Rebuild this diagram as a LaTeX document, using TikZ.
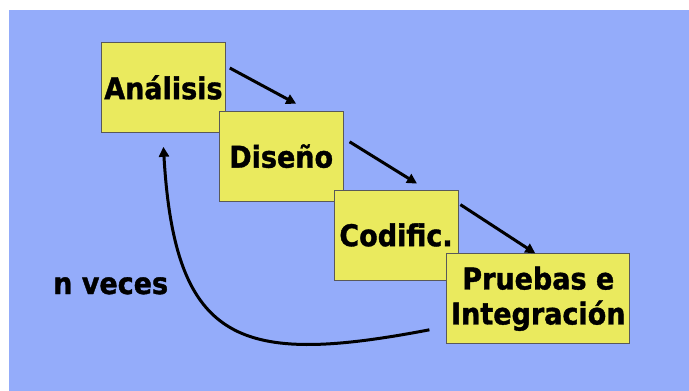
\documentclass[tikz,border=0pt]{standalone}
\usepackage{fontspec}
\setmainfont{DejaVu Sans}[FakeStretch=0.9, BoldFeatures={FakeBold=1.2}]
\usepackage{tikz}
\usetikzlibrary{arrows.meta,positioning}
\definecolor{fondo}{RGB}{148,172,250}
\definecolor{amarillo}{RGB}{234,234,94}
\tikzstyle{fase} = [rectangle, minimum width=124pt, minimum height=90pt, inner sep=0pt, text centered, align=center, draw=black!65, line width=0.8pt, fill=amarillo, font=\fontsize{30}{35}\selectfont\bfseries]
\tikzstyle{arrow} = [line width=3pt,-{Triangle[length=10pt,width=10pt]}]

\begin{document}
\begin{tikzpicture}[x=1pt,y=-1pt]
\useasboundingbox (0,0) rectangle (689,391);
\fill [white] (0,0) rectangle (689,391);
\fill [fondo] (9,10) rectangle (689,391);

\node (ana) [fase, anchor=north west] at (101,42) {Análisis};
\node (dis) [fase, anchor=north west] at ([shift={(-7,-22)}]ana.south east) {Diseño};
\node (cod) [fase, anchor=north west] at ([shift={(-10,-12)}]dis.south east) {Codific.};
\node (pru) [fase, anchor=north west, minimum width=183pt] at ([shift={(-12,-27)}]cod.south east) {Pruebas e\\Integración};
\node (veces) [anchor=base west, inner sep=0pt, font=\fontsize{30}{35}\selectfont\bfseries] at (53,294) {n veces};

\draw [arrow] ([shift={(4,26)}]ana.north east) -- ([shift={(15,-7)}]dis.north);
\draw [arrow] ([shift={(6,31)}]dis.north east) -- ([shift={(21,-6)}]cod.north);
\draw [arrow] ([shift={(2,15)}]cod.north east) -- ([shift={(-3,0)}]pru.north);
\draw [arrow] ([shift={(-17,31)}]pru.west) .. controls (240,366) and (175,345) .. ([shift={(0,14)}]ana.south);
\end{tikzpicture}
\end{document}
